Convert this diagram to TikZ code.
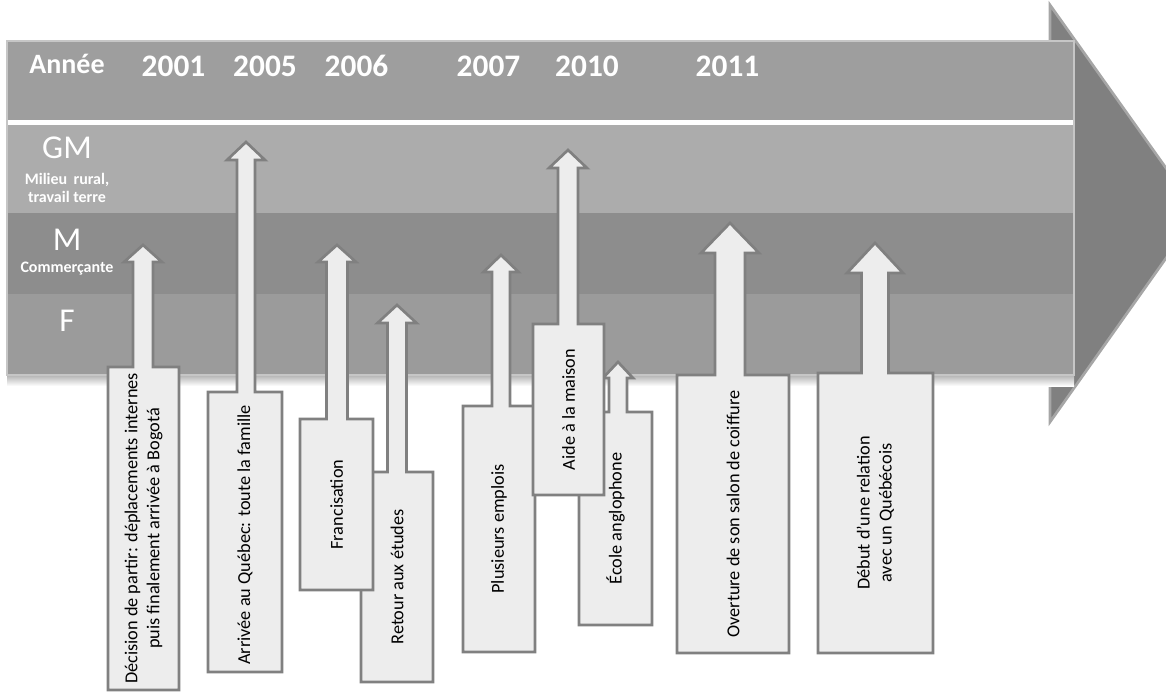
\documentclass[tikz,border=0pt]{standalone}
\usepackage{fontspec}
\setmainfont{Carlito}
\usepackage{xcolor}
\usepackage{tikz}
\usetikzlibrary{positioning,calc}

\definecolor{headgray}{HTML}{9E9E9E}
\definecolor{gmgray}{HTML}{ACACAC}
\definecolor{mgray}{HTML}{8D8D8D}
\definecolor{fgray}{HTML}{9B9B9B}
\definecolor{tipgray}{HTML}{808080}
\definecolor{boxfill}{HTML}{EDEDED}
\definecolor{boxline}{HTML}{808080}

\tikzset{
    callout/.style={fill=boxfill, draw=boxline, line width=2pt, line join=miter},
    boxtext/.style={rotate=90, align=center, inner sep=0pt, font=\fontsize{13.7}{16.5}\selectfont},
    yearlabel/.style={text=white, anchor=base, font=\fontsize{23.5}{26}\selectfont\bfseries},
    lanelabel/.style={text=white, anchor=base, font=\fontsize{25}{28}\selectfont},
    lanenote/.style={text=white, align=center, font=\fontsize{12}{13.5}\selectfont\bfseries}
}

% up arrow callout: centre, shaft half width, head half width, tip, head base,
% box left, box right, box top, box bottom
\newcommand{\upcallout}[9]{%
    \filldraw[callout] (#6,#8) -- ({#1-#2},#8) -- ({#1-#2},#5) -- ({#1-#3},#5) -- (#1,#4)
        -- ({#1+#3},#5) -- ({#1+#2},#5) -- ({#1+#2},#8) -- (#7,#8) -- (#7,#9) -- (#6,#9) -- cycle;
}

\begin{document}
\begin{tikzpicture}[x=0.75pt, y=-0.75pt]
    \useasboundingbox (0,0) rectangle (1166,692);
    \clip (0,0) rectangle (1166,692);

    % Big arrow
    \filldraw[fill=tipgray, draw=gray!70, line width=2pt] (1050,5) -- (1198,213) -- (1050,422) -- cycle;
    \shade[top color=black!30, bottom color=white] (7,375) rectangle (1074,386);
    \fill[headgray] (7,41) rectangle (1074,120);
    \fill[white] (7,120) rectangle (1074,125);
    \fill[gmgray] (7,125) rectangle (1074,213);
    \fill[mgray] (7,213) rectangle (1074,294);
    \fill[fgray] (7,294) rectangle (1074,375);
    \draw[gray!45, line width=1pt] (7,41) rectangle (1074,375);

    % Years
    \node[yearlabel, font=\fontsize{21}{24}\selectfont\bfseries] (annee) at (67,74) {Année};
    \node[yearlabel] (y2001) at (173.5,77) {2001};
    \node[yearlabel] (y2005) at (265,77) {2005};
    \node[yearlabel] (y2006) at (356.5,77) {2006};
    \node[yearlabel] (y2007) at (488.5,77) {2007};
    \node[yearlabel] (y2010) at (587,77) {2010};
    \node[yearlabel] (y2011) at (727.5,77) {2011};

    % Lanes
    \node[lanelabel] (gm) at (67,158) {GM};
    \node[lanenote] (gmnote) at (67,188) {Milieu\, rural,\\travail terre};
    \node[lanelabel] (m) at (67,250) {M};
    \node[lanenote] (mnote) at (67,269) {Commerçante};
    \node[lanelabel] (f) at (67,331) {F};

    % 2001
    \upcallout{143}{10}{19}{245}{262}{108}{179}{367}{690}
    \node[boxtext] (decision) at (143.5,528.5) {Décision de partir: déplacements internes\\puis finalement arrivée à Bogotá};

    % 2005
    \upcallout{246}{9}{19}{142}{160}{208}{282}{392}{672}
    \node[boxtext] (arrivee) at (245,535) {Arrivée au Québec: toute la famille};

    % 2006
    \upcallout{397}{9.5}{19.5}{305}{323}{361}{433}{472}{682}
    \node[boxtext] (retour) at (397,577) {Retour aux études};
    \upcallout{337}{10.5}{19}{245}{262}{300}{373}{419}{590}
    \node[boxtext] (francisation) at (336.5,504.5) {Francisation};

    % 2007
    \upcallout{501}{9}{17.5}{255}{272}{463}{535}{406}{652}
    \node[boxtext] (emplois) at (499,529) {Plusieurs emplois};

    % 2010
    \upcallout{618}{9}{15}{362}{378}{579}{652}{412}{625}
    \node[boxtext] (ecole) at (615.5,518.5) {École anglophone};
    \upcallout{568}{10}{19}{150}{168}{533}{604}{324}{495}
    \node[boxtext] (aide) at (568.5,409.5) {Aide à la maison};

    % 2011
    \upcallout{730}{15}{29}{223}{253}{677}{789}{375}{653}
    \node[boxtext] (salon) at (733,514) {Overture de son salon de coiffure};
    \upcallout{875}{13.5}{28}{243}{273}{818}{933}{373}{653}
    \node[boxtext] (relation) at (875.5,513) {Début d’une relation\\avec un Québécois};
\end{tikzpicture}
\end{document}
